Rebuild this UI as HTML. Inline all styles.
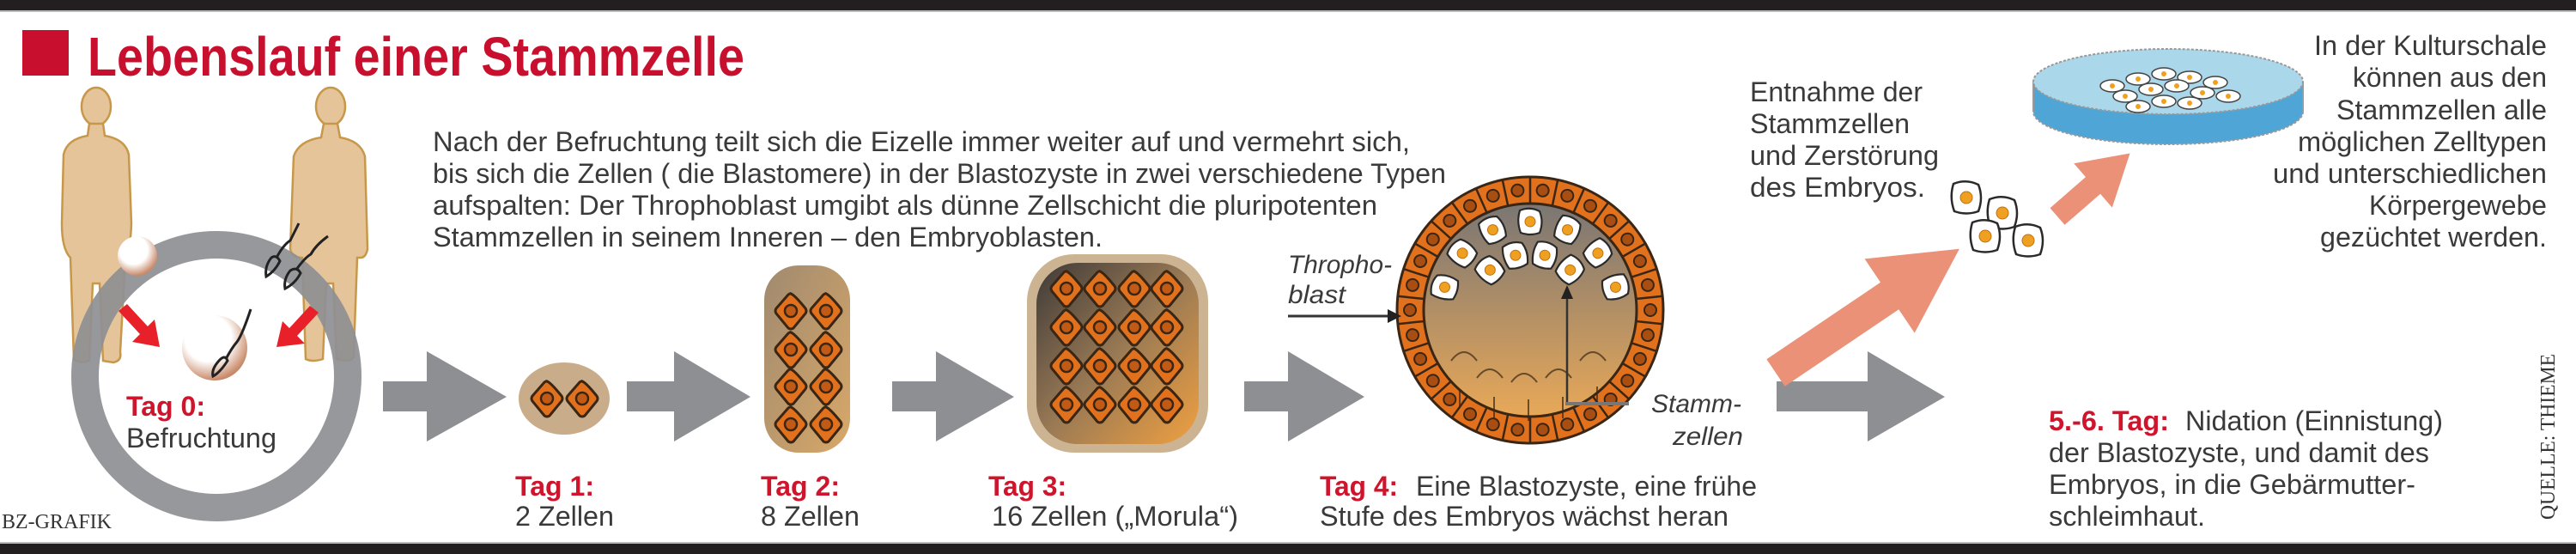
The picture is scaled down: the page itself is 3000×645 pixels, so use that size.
<!DOCTYPE html>
<html><head><meta charset="utf-8"><style>
html,body{margin:0;padding:0;background:#fff;}
svg{display:block;}
text{font-family:"Liberation Sans",sans-serif;}
.b{font-size:32px;fill:#3a3a3a;}
.r{font-size:32px;fill:#d0142c;font-weight:bold;}
.s{font-family:"Liberation Serif",serif;}
</style></head><body>
<svg width="3000" height="645" viewBox="0 0 3000 645" xmlns="http://www.w3.org/2000/svg">
<defs>
<g id="oc"><path d="M0,-20 Q4,-19 17,-3 Q19,0 17,3 L3,20 Q0,22 -3,20 L-17,3 Q-19,0 -17,-3 L-3,-19 Q0,-21 0,-20Z" fill="#e2711d" stroke="#3a2614" stroke-width="3"/><circle r="7" fill="#c25a16" stroke="#3a2614" stroke-width="2.5"/></g>
<g id="wc"><path d="M-15,-16 Q0,-22 14,-15 Q20,0 14,16 Q0,21 -14,16 Q-20,0 -15,-16Z" fill="#fff" stroke="#2a2a2a" stroke-width="2.5"/><circle r="7" fill="#f0a020" stroke="#c07010" stroke-width="1"/></g>
<g id="ws"><path d="M-12,-13 Q0,-18 11,-12 Q16,0 11,13 Q0,17 -11,13 Q-16,0 -12,-13Z" fill="#fff" stroke="#2a2a2a" stroke-width="2.2"/><circle r="6" fill="#f0a020" stroke="#c07010" stroke-width="1"/></g>
<linearGradient id="g16" x1="0" y1="0" x2="1" y2="1"><stop offset="0" stop-color="#3e3a38"/><stop offset="0.5" stop-color="#9a7a55"/><stop offset="1" stop-color="#f0a040"/></linearGradient>
<linearGradient id="g8" x1="0" y1="0" x2="1" y2="1"><stop offset="0" stop-color="#a08a70"/><stop offset="1" stop-color="#d8a868"/></linearGradient>
<linearGradient id="gb" x1="0" y1="0" x2="0" y2="1"><stop offset="0" stop-color="#7a7674"/><stop offset="1" stop-color="#e8a858"/></linearGradient>
<radialGradient id="egg" cx="0.4" cy="0.35" r="0.65"><stop offset="0.55" stop-color="#fff"/><stop offset="1" stop-color="#c98a6a"/></radialGradient>
</defs>

<rect x="0" y="0" width="3000" height="12" fill="#231f20"/>
<rect x="0" y="12" width="3000" height="2" fill="#bbb"/>
<rect x="0" y="633" width="3000" height="12" fill="#231f20"/>
<rect x="0" y="631" width="3000" height="2" fill="#bbb"/>

<rect x="26" y="35" width="54" height="53" fill="#c8102e"/>
<text x="102" y="88" font-size="64" font-weight="bold" fill="#c8102e" textLength="765" lengthAdjust="spacingAndGlyphs">Lebenslauf einer Stammzelle</text>

<g fill="#e6c49a" stroke="#c8984a" stroke-width="2.5">
<ellipse cx="112" cy="124" rx="17" ry="22"/>
<path d="M104,144 L120,144 L122,158 Q146,162 150,180 L153,260 Q152,290 146,300 L140,410 Q142,420 132,422 L120,420 L116,330 L108,330 L104,420 Q92,424 86,418 L82,300 Q72,290 72,260 L74,180 Q78,162 102,158Z"/>
<ellipse cx="385" cy="124" rx="17" ry="22"/>
<path d="M377,144 L393,144 L396,160 Q420,164 425,182 L428,290 Q426,300 420,300 L416,300 L412,410 Q414,420 402,420 L392,418 L388,330 L380,330 L376,418 Q364,422 356,418 L352,300 Q340,300 338,290 L342,182 Q348,164 374,160Z"/>
</g>

<circle cx="252" cy="438" r="153" fill="none" stroke="#8e8f93" stroke-width="32" opacity="0.92"/>

<circle cx="160" cy="298" r="23" fill="url(#egg)"/>
<circle cx="250" cy="405" r="38" fill="url(#egg)"/>
<g fill="none" stroke="#222" stroke-width="3">
<path d="M255,420 Q246,430 248,438 Q256,434 265,420 Q262,412 255,420Z"/><path d="M263,418 Q270,405 276,398 Q282,390 292,360"/>
<path d="M316,300 Q308,310 310,322 Q320,316 326,304 Q322,296 316,300Z"/><path d="M322,300 Q330,285 338,280 Q344,268 348,260"/>
<path d="M338,315 Q330,325 332,336 Q344,330 350,318 Q346,310 338,315Z"/><path d="M345,314 Q355,300 362,296 Q368,285 382,275"/>
</g>
<g fill="#e8202a">
<polygon points="138,362 148,354 172,380 180,372 186,404 154,398 163,389"/>
<polygon points="371,364 361,356 337,382 329,374 322,404 355,400 346,391"/>
</g>
<text class="r" x="147" y="484" textLength="92" lengthAdjust="spacingAndGlyphs">Tag 0:</text>
<text class="b" x="147" y="521" textLength="175" lengthAdjust="spacingAndGlyphs">Befruchtung</text>
<text class="s" x="2" y="615" style="font-family:'Liberation Serif',serif" font-size="24" fill="#333" textLength="128" lengthAdjust="spacingAndGlyphs">BZ-GRAFIK</text>

<text class="b" x="504" y="176" textLength="1138" lengthAdjust="spacingAndGlyphs">Nach der Befruchtung teilt sich die Eizelle immer weiter auf und vermehrt sich,</text>
<text class="b" x="504" y="213" textLength="1180" lengthAdjust="spacingAndGlyphs">bis sich die Zellen ( die Blastomere) in der Blastozyste in zwei verschiedene Typen</text>
<text class="b" x="504" y="250" textLength="1100" lengthAdjust="spacingAndGlyphs">aufspalten: Der Throphoblast umgibt als dünne Zellschicht die pluripotenten</text>
<text class="b" x="504" y="287" textLength="780" lengthAdjust="spacingAndGlyphs">Stammzellen in seinem Inneren – den Embryoblasten.</text>

<g fill="#8e8f93">
<polygon points="446,444 497,444 497,409 590,462 497,514 497,479 446,479"/>
<polygon points="730,444 785,444 785,409 874,462 785,514 785,479 730,479"/>
<polygon points="1039,444 1090,444 1090,409 1181,462 1090,514 1090,479 1039,479"/>
<polygon points="1449,444 1500,444 1500,409 1589,462 1500,514 1500,479 1449,479"/>
<polygon points="2069,444 2175,444 2175,409 2265,462 2175,514 2175,479 2069,479"/>
</g>

<ellipse cx="657" cy="464" rx="53" ry="42" fill="#c9ac8a"/>
<use href="#oc" x="637" y="464"/><use href="#oc" x="678" y="464"/>
<text class="r" x="600" y="577" textLength="92" lengthAdjust="spacingAndGlyphs">Tag 1:</text>
<text class="b" x="600" y="612" textLength="115" lengthAdjust="spacingAndGlyphs">2 Zellen</text>

<rect x="890" y="309" width="100" height="218" rx="40" fill="url(#g8)"/>
<use href="#oc" x="921" y="362"/><use href="#oc" x="962" y="362"/>
<use href="#oc" x="921" y="407"/><use href="#oc" x="962" y="407"/>
<use href="#oc" x="921" y="450"/><use href="#oc" x="962" y="450"/>
<use href="#oc" x="921" y="494"/><use href="#oc" x="962" y="494"/>
<text class="r" x="886" y="577" textLength="92" lengthAdjust="spacingAndGlyphs">Tag 2:</text>
<text class="b" x="886" y="612" textLength="115" lengthAdjust="spacingAndGlyphs">8 Zellen</text>

<rect x="1196" y="296" width="211" height="231" rx="55" fill="#ccb392"/>
<rect x="1207" y="306" width="189" height="211" rx="48" fill="url(#g16)"/>
<g>
<use href="#oc" x="1242" y="336"/><use href="#oc" x="1281" y="336"/><use href="#oc" x="1321" y="336"/><use href="#oc" x="1359" y="336"/>
<use href="#oc" x="1242" y="381"/><use href="#oc" x="1281" y="381"/><use href="#oc" x="1321" y="381"/><use href="#oc" x="1359" y="381"/>
<use href="#oc" x="1242" y="426"/><use href="#oc" x="1281" y="426"/><use href="#oc" x="1321" y="426"/><use href="#oc" x="1359" y="426"/>
<use href="#oc" x="1242" y="471"/><use href="#oc" x="1281" y="471"/><use href="#oc" x="1321" y="471"/><use href="#oc" x="1359" y="471"/>
</g>
<text class="r" x="1151" y="577" textLength="91" lengthAdjust="spacingAndGlyphs">Tag 3:</text>
<text class="b" x="1155" y="612" textLength="287" lengthAdjust="spacingAndGlyphs">16 Zellen („Morula“)</text>

<circle cx="1782" cy="361" r="155" fill="#e2711d" stroke="#3a2614" stroke-width="3"/>
<circle cx="1782" cy="361" r="124" fill="url(#gb)" stroke="#3a2614" stroke-width="3"/>
<g stroke="#3a2614" stroke-width="2.5">
<line x1="1782" y1="206" x2="1782" y2="237" id="sp"/>
<use href="#sp" transform="rotate(12 1782 361)"/><use href="#sp" transform="rotate(24 1782 361)"/><use href="#sp" transform="rotate(36 1782 361)"/><use href="#sp" transform="rotate(48 1782 361)"/><use href="#sp" transform="rotate(60 1782 361)"/><use href="#sp" transform="rotate(72 1782 361)"/><use href="#sp" transform="rotate(84 1782 361)"/><use href="#sp" transform="rotate(96 1782 361)"/><use href="#sp" transform="rotate(108 1782 361)"/><use href="#sp" transform="rotate(120 1782 361)"/><use href="#sp" transform="rotate(132 1782 361)"/><use href="#sp" transform="rotate(144 1782 361)"/><use href="#sp" transform="rotate(156 1782 361)"/><use href="#sp" transform="rotate(168 1782 361)"/><use href="#sp" transform="rotate(180 1782 361)"/><use href="#sp" transform="rotate(192 1782 361)"/><use href="#sp" transform="rotate(204 1782 361)"/><use href="#sp" transform="rotate(216 1782 361)"/><use href="#sp" transform="rotate(228 1782 361)"/><use href="#sp" transform="rotate(240 1782 361)"/><use href="#sp" transform="rotate(252 1782 361)"/><use href="#sp" transform="rotate(264 1782 361)"/><use href="#sp" transform="rotate(276 1782 361)"/><use href="#sp" transform="rotate(288 1782 361)"/><use href="#sp" transform="rotate(300 1782 361)"/><use href="#sp" transform="rotate(312 1782 361)"/><use href="#sp" transform="rotate(324 1782 361)"/><use href="#sp" transform="rotate(336 1782 361)"/><use href="#sp" transform="rotate(348 1782 361)"/>
</g>
<g fill="#a84e12" stroke="#3a2614" stroke-width="2">
<circle cx="1782" cy="221" r="7" id="nu" transform="rotate(6 1782 361)"/>
<use href="#nu" transform="rotate(12 1782 361)"/><use href="#nu" transform="rotate(24 1782 361)"/><use href="#nu" transform="rotate(36 1782 361)"/><use href="#nu" transform="rotate(48 1782 361)"/><use href="#nu" transform="rotate(60 1782 361)"/><use href="#nu" transform="rotate(72 1782 361)"/><use href="#nu" transform="rotate(84 1782 361)"/><use href="#nu" transform="rotate(96 1782 361)"/><use href="#nu" transform="rotate(108 1782 361)"/><use href="#nu" transform="rotate(120 1782 361)"/><use href="#nu" transform="rotate(132 1782 361)"/><use href="#nu" transform="rotate(144 1782 361)"/><use href="#nu" transform="rotate(156 1782 361)"/><use href="#nu" transform="rotate(168 1782 361)"/><use href="#nu" transform="rotate(180 1782 361)"/><use href="#nu" transform="rotate(192 1782 361)"/><use href="#nu" transform="rotate(204 1782 361)"/><use href="#nu" transform="rotate(216 1782 361)"/><use href="#nu" transform="rotate(228 1782 361)"/><use href="#nu" transform="rotate(240 1782 361)"/><use href="#nu" transform="rotate(252 1782 361)"/><use href="#nu" transform="rotate(264 1782 361)"/><use href="#nu" transform="rotate(276 1782 361)"/><use href="#nu" transform="rotate(288 1782 361)"/><use href="#nu" transform="rotate(300 1782 361)"/><use href="#nu" transform="rotate(312 1782 361)"/><use href="#nu" transform="rotate(324 1782 361)"/><use href="#nu" transform="rotate(336 1782 361)"/><use href="#nu" transform="rotate(348 1782 361)"/>
</g>
<g fill="none" stroke="#3a2614" stroke-width="2" opacity="0.7">
<path d="M1690,420 q15,-20 30,0 M1720,440 q15,-20 30,0 M1760,445 q15,-20 30,0 M1800,440 q15,-20 30,0 M1840,420 q15,-20 30,0 M1700,455 l0,20 M1740,462 l0,25 M1780,465 l0,25 M1820,462 l0,25 M1860,450 l0,20"/>
</g>
<use href="#ws" x="1782" y="258" transform="rotate(-75 1782 361)"/>
<use href="#ws" x="1782" y="258" transform="rotate(-50 1782 361)"/>
<use href="#ws" x="1782" y="258" transform="rotate(-25 1782 361)"/>
<use href="#ws" x="1782" y="258"/>
<use href="#ws" x="1782" y="258" transform="rotate(25 1782 361)"/>
<use href="#ws" x="1782" y="258" transform="rotate(50 1782 361)"/>
<use href="#ws" x="1782" y="258" transform="rotate(75 1782 361)"/>
<use href="#ws" x="1782" y="295" transform="rotate(-45 1782 361)"/>
<use href="#ws" x="1782" y="295" transform="rotate(-15 1782 361)"/>
<use href="#ws" x="1782" y="295" transform="rotate(15 1782 361)"/>
<use href="#ws" x="1782" y="295" transform="rotate(45 1782 361)"/>
<text x="1500" y="318" font-size="30" font-style="italic" fill="#3a3a3a" textLength="121" lengthAdjust="spacingAndGlyphs">Thropho-</text>
<text x="1500" y="353" font-size="30" font-style="italic" fill="#3a3a3a" textLength="67" lengthAdjust="spacingAndGlyphs">blast</text>
<line x1="1500" y1="368" x2="1620" y2="368" stroke="#333" stroke-width="3"/>
<polygon points="1632,368 1616,360 1616,376" fill="#222"/>
<line x1="1825" y1="470" x2="1825" y2="345" stroke="#333" stroke-width="2.5"/>
<polygon points="1825,332 1818,348 1832,348" fill="#222"/>
<line x1="1823" y1="470" x2="1897" y2="470" stroke="#777" stroke-width="4"/>
<text x="1923" y="480" font-size="30" font-style="italic" fill="#3a3a3a" textLength="105" lengthAdjust="spacingAndGlyphs">Stamm-</text>
<text x="1948" y="518" font-size="30" font-style="italic" fill="#3a3a3a" textLength="82" lengthAdjust="spacingAndGlyphs">zellen</text>
<text class="r" x="1537" y="577" textLength="91" lengthAdjust="spacingAndGlyphs">Tag 4:</text>
<text class="b" x="1649" y="577" textLength="397" lengthAdjust="spacingAndGlyphs">Eine Blastozyste, eine frühe</text>
<text class="b" x="1537" y="612" textLength="476" lengthAdjust="spacingAndGlyphs">Stufe des Embryos wächst heran</text>

<g fill="#ea9178">
<polygon transform="translate(2068,434) rotate(-34)" points="0,-19 160,-19 160,-52 258,0 160,52 160,19 0,19"/>
<polygon transform="translate(2396,252) rotate(-41)" points="0,-13 55,-13 55,-34 112,0 55,34 55,13 0,13"/>
</g>
<use href="#wc" x="2290" y="230"/>
<use href="#wc" x="2332" y="248"/>
<use href="#wc" x="2312" y="275"/>
<use href="#wc" x="2362" y="280"/>
<ellipse cx="2525" cy="130" rx="157" ry="38" fill="#4fa6d6" stroke="#999" stroke-width="2" stroke-dasharray="3,2"/>
<rect x="2368" y="95" width="314" height="35" fill="#4fa6d6"/>
<line x1="2368" y1="95" x2="2368" y2="130" stroke="#999" stroke-width="2"/>
<line x1="2682" y1="95" x2="2682" y2="130" stroke="#999" stroke-width="2"/>
<ellipse cx="2525" cy="95" rx="157" ry="38" fill="#abd7ea" stroke="#999" stroke-width="2" stroke-dasharray="3,2"/>
<g fill="#fff" stroke="#444" stroke-width="1.5">
<ellipse cx="2460" cy="100" rx="14" ry="7"/><ellipse cx="2490" cy="92" rx="14" ry="7"/><ellipse cx="2520" cy="86" rx="14" ry="7"/><ellipse cx="2550" cy="90" rx="14" ry="7"/><ellipse cx="2580" cy="96" rx="14" ry="7"/>
<ellipse cx="2475" cy="112" rx="14" ry="7"/><ellipse cx="2505" cy="104" rx="14" ry="7"/><ellipse cx="2535" cy="100" rx="14" ry="7"/><ellipse cx="2565" cy="108" rx="14" ry="7"/><ellipse cx="2595" cy="112" rx="14" ry="7"/>
<ellipse cx="2490" cy="124" rx="14" ry="7"/><ellipse cx="2520" cy="118" rx="14" ry="7"/><ellipse cx="2550" cy="120" rx="14" ry="7"/>
</g>
<g fill="#f0a020">
<circle cx="2460" cy="100" r="3"/><circle cx="2490" cy="92" r="3"/><circle cx="2520" cy="86" r="3"/><circle cx="2550" cy="90" r="3"/><circle cx="2580" cy="96" r="3"/><circle cx="2475" cy="112" r="3"/><circle cx="2505" cy="104" r="3"/><circle cx="2535" cy="100" r="3"/><circle cx="2565" cy="108" r="3"/><circle cx="2595" cy="112" r="3"/><circle cx="2490" cy="124" r="3"/><circle cx="2520" cy="118" r="3"/><circle cx="2550" cy="120" r="3"/>
</g>

<text class="b" x="2038" y="118" textLength="201" lengthAdjust="spacingAndGlyphs">Entnahme der</text>
<text class="b" x="2038" y="155" textLength="186" lengthAdjust="spacingAndGlyphs">Stammzellen</text>
<text class="b" x="2038" y="192" textLength="220" lengthAdjust="spacingAndGlyphs">und Zerstörung</text>
<text class="b" x="2038" y="229" textLength="204" lengthAdjust="spacingAndGlyphs">des  Embryos.</text>

<g text-anchor="end">
<text class="b" x="2966" y="64" textLength="271" lengthAdjust="spacingAndGlyphs">In der Kulturschale</text>
<text class="b" x="2966" y="101" textLength="226" lengthAdjust="spacingAndGlyphs">können aus den</text>
<text class="b" x="2966" y="139" textLength="245" lengthAdjust="spacingAndGlyphs">Stammzellen alle</text>
<text class="b" x="2966" y="176" textLength="290" lengthAdjust="spacingAndGlyphs">möglichen Zelltypen</text>
<text class="b" x="2966" y="213" textLength="319" lengthAdjust="spacingAndGlyphs">und unterschiedlichen</text>
<text class="b" x="2966" y="250" textLength="207" lengthAdjust="spacingAndGlyphs">Körpergewebe</text>
<text class="b" x="2966" y="287" textLength="264" lengthAdjust="spacingAndGlyphs">gezüchtet werden.</text>
</g>

<text class="r" x="2386" y="501" textLength="140" lengthAdjust="spacingAndGlyphs">5.-6. Tag:</text>
<text class="b" x="2545" y="501" textLength="300" lengthAdjust="spacingAndGlyphs">Nidation (Einnistung)</text>
<text class="b" x="2386" y="538" textLength="443" lengthAdjust="spacingAndGlyphs">der Blastozyste, und damit des</text>
<text class="b" x="2386" y="575" textLength="427" lengthAdjust="spacingAndGlyphs">Embryos, in die Gebärmutter-</text>
<text class="b" x="2386" y="612" textLength="182" lengthAdjust="spacingAndGlyphs">schleimhaut.</text>

<text transform="translate(2975,605) rotate(-90)" x="0" y="0" style="font-family:'Liberation Serif',serif" font-size="24" fill="#333" textLength="193" lengthAdjust="spacingAndGlyphs">QUELLE: THIEME</text>
</svg>
</body></html>
